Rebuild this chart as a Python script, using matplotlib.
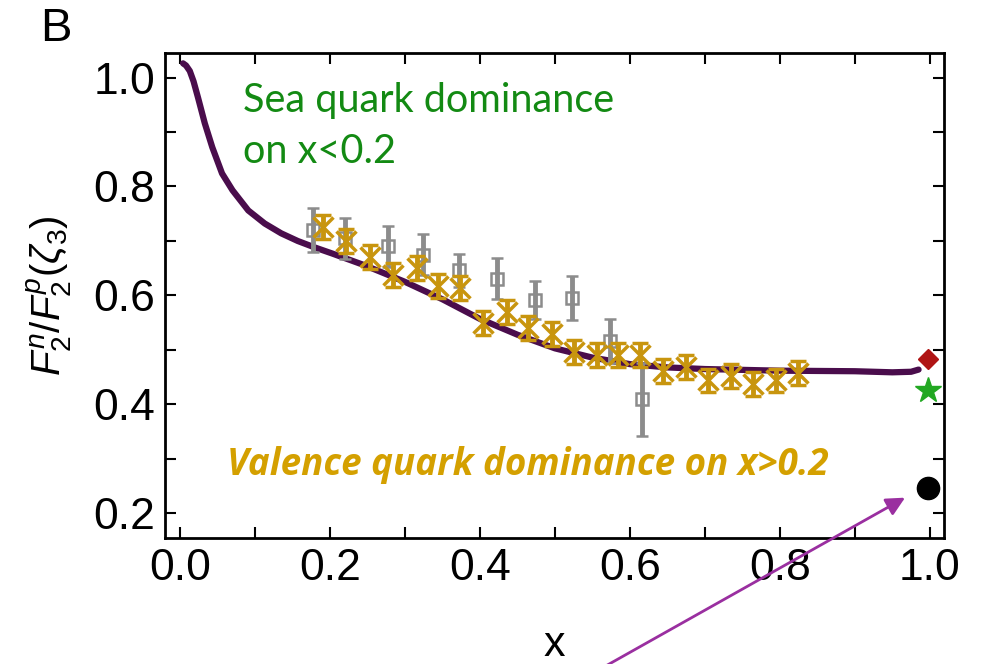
import matplotlib
matplotlib.use("Agg")
import matplotlib.pyplot as plt
import numpy as np

# theory curve F2n/F2p
curve_x = [0.004, 0.008, 0.013, 0.018, 0.024, 0.033, 0.043, 0.056, 0.07, 0.091, 0.113,
           0.135, 0.157, 0.18, 0.203, 0.247, 0.30, 0.35, 0.40, 0.45, 0.50, 0.55, 0.60,
           0.65, 0.70, 0.80, 0.90, 0.95, 0.975, 0.985]
curve_y = [1.026, 1.022, 1.012, 0.993, 0.963, 0.916, 0.872, 0.824, 0.793, 0.756, 0.732,
           0.714, 0.700, 0.688, 0.677, 0.655, 0.625, 0.593, 0.557, 0.528, 0.503, 0.486,
           0.474, 0.468, 0.465, 0.462, 0.461, 0.459, 0.460, 0.464]

# gold data (crosses)
gold_x = [0.19, 0.222, 0.253, 0.284, 0.316, 0.344, 0.373, 0.404, 0.436, 0.464, 0.496,
          0.525, 0.556, 0.584, 0.614, 0.644, 0.675, 0.704, 0.735, 0.764, 0.795, 0.824]
gold_y = [0.725, 0.70, 0.67, 0.637, 0.65, 0.618, 0.613, 0.549, 0.569, 0.541, 0.53,
          0.497, 0.49, 0.49, 0.49, 0.462, 0.468, 0.444, 0.453, 0.438, 0.444, 0.457]
gold_err = [0.022] * len(gold_x)

# gray data (open squares)
gray_x = [0.177, 0.22, 0.277, 0.324, 0.372, 0.423, 0.473, 0.523, 0.573, 0.616]
gray_y = [0.72, 0.705, 0.69, 0.675, 0.646, 0.631, 0.591, 0.595, 0.517, 0.41]
gray_err = [0.04, 0.038, 0.038, 0.037, 0.031, 0.037, 0.035, 0.04, 0.04, 0.067]

# x = 1 limits
lim_x = [0.997, 0.997, 0.997]
lim_y = [0.484, 0.426, 0.246]

plt.rcParams['font.family'] = ['Liberation Sans', 'DejaVu Sans']
plt.rcParams['mathtext.fontset'] = 'custom'
plt.rcParams['mathtext.rm'] = 'Liberation Sans'
plt.rcParams['mathtext.it'] = 'Liberation Sans:italic'

fig = plt.figure(figsize=(9.83, 6.64), dpi=100)
ax = fig.add_axes([0.1679, 0.1898, 0.7925, 0.7304])

ax.plot(curve_x, curve_y, color='#4a0d4c', lw=4.5, solid_capstyle='round',
        solid_joinstyle='round', zorder=2)

ax.errorbar(gray_x, gray_y, yerr=gray_err, fmt='s', ms=8, mfc='none', mec='#8c8c8c',
            mew=1.8, ecolor='#8c8c8c', elinewidth=3.5, capsize=4.5, capthick=3.5, zorder=3)
ax.errorbar(gold_x, gold_y, yerr=gold_err, fmt='x', ms=15, mec='#c8950e', mew=2.5,
            ecolor='#c8950e', elinewidth=3.5, capsize=5.5, capthick=4.5, zorder=4)

ax.plot(lim_x[0], lim_y[0], 'D', color='#b01515', ms=10, zorder=5)
ax.plot(lim_x[1], lim_y[1], '*', color='#22a822', ms=19, zorder=5)
ax.plot(lim_x[2], lim_y[2], 'o', color='black', ms=16, zorder=5)

ax.set_xlim(-0.02, 1.019)
ax.set_ylim(0.155, 1.045)
ax.set_xticks([0.0, 0.2, 0.4, 0.6, 0.8, 1.0])
ax.set_yticks([0.2, 0.4, 0.6, 0.8, 1.0])
ax.set_xticks(np.arange(0.1, 1.0, 0.2), minor=True)
ax.set_yticks(np.arange(0.3, 1.0, 0.2), minor=True)
ax.tick_params(which='both', direction='in', top=True, right=True, length=8, width=1.5,
               labelsize=32, pad=7)
for s in ax.spines.values():
    s.set_linewidth(2)

ax.set_xlabel('x', fontsize=31, labelpad=26)
ax.set_ylabel(r'$F_2^n/F_2^p(\zeta_3)$', fontsize=29, labelpad=14)

ax.text(0.084, 0.936, 'Sea quark dominance', color='#138a13', fontsize=28.5,
        family='Lato', va='baseline')
ax.text(0.084, 0.844, 'on x<0.2', color='#138a13', fontsize=28.5, family='Lato',
        va='baseline')
ax.text(0.063, 0.270, 'Valence quark dominance on x>0.2', color='#d4a000', fontsize=26.5,
        family='Open Sans', weight='bold', style='italic', va='baseline')

fig.text(0.057, 0.99, 'B', fontsize=34, va='top', ha='center')

ax.annotate('', xy=(0.967, 0.229), xycoords='data', xytext=(595, -8),
            textcoords='figure pixels', annotation_clip=False,
            arrowprops=dict(arrowstyle='-|>', color='#9a2fa0', lw=2, mutation_scale=28,
                            shrinkA=0, shrinkB=0))

fig.savefig('out.png', dpi=100)
